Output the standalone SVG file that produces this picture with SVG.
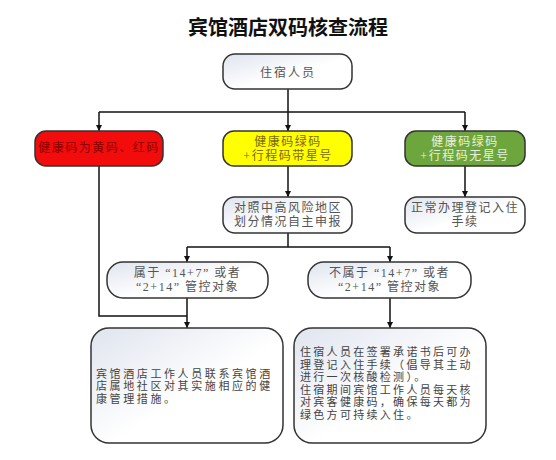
<svg xmlns="http://www.w3.org/2000/svg" width="556" height="460" viewBox="0 0 556 460">
<style>
.box{stroke:#333;stroke-width:1.5}
.w{fill:url(#g)}
.t{font-family:"Liberation Serif","Noto Sans CJK SC",serif;font-size:12px;letter-spacing:1.5px;text-anchor:middle}
.tl{font-family:"Liberation Serif","Noto Sans CJK SC",serif;font-size:11px;fill:#444}
.gray{fill:#555}
.c{fill:none;stroke:#111;stroke-width:1.5}
</style>
<defs>
<linearGradient id="g" x1="0" y1="0" x2="1" y2="1">
<stop offset="0" stop-color="#dfe4ee"/>
<stop offset="0.55" stop-color="#ffffff"/>
<stop offset="1" stop-color="#ffffff"/>
</linearGradient>
<marker id="a" viewBox="0 0 8 8" refX="8" refY="4" markerWidth="6" markerHeight="6" orient="auto" markerUnits="userSpaceOnUse">
<path d="M0,0 L8,4 L0,8 Z" fill="#111"/>
</marker>
</defs>
<rect width="556" height="460" fill="#fff"/>
<text x="288" y="35" font-family="'Noto Sans CJK SC',sans-serif" font-size="20" font-weight="bold" text-anchor="middle" fill="#111">宾馆酒店双码核查流程</text>

<g id="connectors">
<path class="c" d="M288,89 V131" marker-end="url(#a)"/>
<path class="c" d="M99,112 H465"/>
<path class="c" d="M99,112 V131" marker-end="url(#a)"/>
<path class="c" d="M465,112 V131" marker-end="url(#a)"/>
<path class="c" d="M288,166 V197" marker-end="url(#a)"/>
<path class="c" d="M465,166 V197" marker-end="url(#a)"/>
<path class="c" d="M288,233 V247"/>
<path class="c" d="M187,247 H390"/>
<path class="c" d="M187,247 V262" marker-end="url(#a)"/>
<path class="c" d="M390,247 V262" marker-end="url(#a)"/>
<path class="c" d="M187,298 V328" marker-end="url(#a)"/>
<path class="c" d="M390,298 V328" marker-end="url(#a)"/>
<path class="c" d="M99,166 V316 H187"/>
</g>

<g id="n-guest">
<rect class="box w" x="223" y="54" width="129" height="35" rx="12"/>
<text class="t gray" x="288" y="76.5" font-size="13" style="letter-spacing:2px">住宿人员</text>
</g>
<g id="n-red">
<rect class="box" x="35" y="131" width="128" height="35" rx="11" fill="#f20c0c"/>
<text class="t" x="99" y="152" fill="#8a0000">健康码为黄码、红码</text>
</g>
<g id="n-yellow">
<rect class="box" x="223" y="131" width="129" height="35" rx="11" fill="#ffff00"/>
<text class="t" x="288" y="146" fill="#7a6a10">健康码绿码</text>
<text class="t" x="288" y="159.5" fill="#7a6a10">+行程码带星号</text>
</g>
<g id="n-green">
<rect class="box" x="405" y="131" width="120" height="35" rx="11" fill="#6ea63e"/>
<text class="t" x="465" y="146" fill="#e8efdc">健康码绿码</text>
<text class="t" x="465" y="159.5" fill="#e8efdc">+行程码无星号</text>
</g>
<g id="n-report">
<rect class="box w" x="223" y="197" width="129" height="36" rx="12"/>
<text class="t gray" x="288" y="212" font-size="12.5">对照中高风险地区</text>
<text class="t gray" x="288" y="226" font-size="12.5">划分情况自主申报</text>
</g>
<g id="n-normal">
<rect class="box w" x="405" y="197" width="120" height="36" rx="12"/>
<text class="t gray" x="465" y="212" font-size="12.5">正常办理登记入住</text>
<text class="t gray" x="465" y="226" font-size="12.5">手续</text>
</g>
<g id="n-yes">
<rect class="box w" x="107" y="262" width="161" height="36" rx="16"/>
<text class="t gray" x="187.5" y="277">属于 “14+7” 或者</text>
<text class="t gray" x="187.5" y="291">“2+14” 管控对象</text>
</g>
<g id="n-no">
<rect class="box w" x="308" y="262" width="163" height="36" rx="16"/>
<text class="t gray" x="389.5" y="277">不属于 “14+7” 或者</text>
<text class="t gray" x="389.5" y="291">“2+14” 管控对象</text>
</g>
<g id="n-manage">
<rect class="box w" x="91" y="328" width="192" height="115" rx="18"/>
<text class="tl" x="96" style="letter-spacing:2.6px"><tspan x="96" y="377.5">宾馆酒店工作人员联系宾馆酒</tspan><tspan x="96" y="390">店属地社区对其实施相应的健</tspan><tspan x="96" y="402.5">康管理措施。</tspan></text>
</g>
<g id="n-checkin">
<rect class="box w" x="294" y="328" width="192" height="115" rx="18"/>
<text class="tl" x="300" style="letter-spacing:2.3px"><tspan x="300" y="356">住宿人员在签署承诺书后可办</tspan><tspan x="300" y="368.5">理登记入住手续（倡导其主动</tspan><tspan x="300" y="381">进行一次核酸检测）。</tspan><tspan x="300" y="393.5">住宿期间宾馆工作人员每天核</tspan><tspan x="300" y="406">对宾客健康码，确保每天都为</tspan><tspan x="300" y="418.5">绿色方可持续入住。</tspan></text>
</g>
</svg>
